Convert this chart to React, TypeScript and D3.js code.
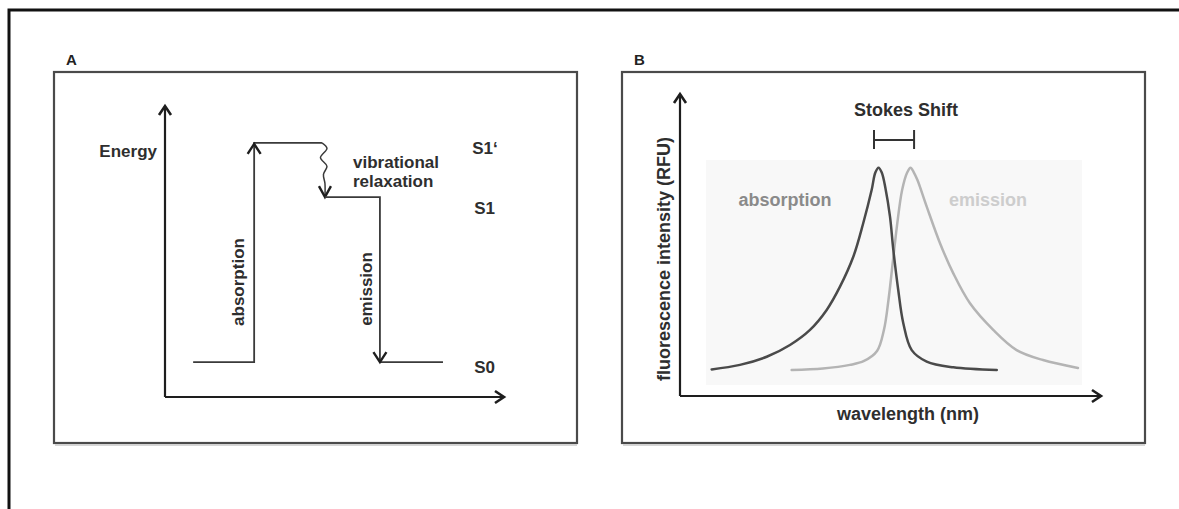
import React from "react";
import * as d3 from "d3";

const W = 1179;
const H = 509;
const FONT = "'Liberation Sans', Arial, Helvetica, sans-serif";

// ---------- Panel A: Jablonski-style energy diagram (arbitrary units) ----------
const levelNames = ["S0", "S1", "S1‘"];
const levelEnergies = [1.2, 6.87, 8.73];
// horizontal extent of each drawn level segment (transition coordinate)
const s0LeftSpan = [0.83, 2.63];
const s1PrimeSpan = [2.63, 4.63];
const s1Span = [4.72, 6.34];
const s0RightSpan = [6.34, 8.2];
const relaxationX = [4.63, 4.72];
const levelLabelX = 9.12;

// ---------- Panel B: absorption / emission spectra ----------
const absWavelength = [398.8, 415.6, 431.5, 445.3, 457.2, 467.1, 475.0, 482.9, 488.8, 493.8, 496.0, 497.9, 499.8, 502.0, 504.7, 506.7, 509.6, 512.6, 517.6, 526.5, 542.3, 568.1];
const absIntensity = [8.8, 10.3, 13.0, 16.9, 21.9, 28.5, 36.2, 46.1, 57.2, 68.2, 74.0, 75.6, 74.0, 68.8, 59.4, 48.3, 35.1, 24.1, 15.2, 11.4, 9.5, 8.6];
const emWavelength = [446.3, 464.9, 480.9, 489.3, 497.0, 501.1, 503.8, 506.5, 508.9, 511.9, 514.9, 516.9, 518.9, 521.0, 526.5, 534.4, 542.3, 552.2, 566.0, 579.9, 595.6, 616.3];
const emIntensity = [8.6, 9.1, 10.3, 11.6, 14.9, 21.9, 31.8, 45.0, 56.6, 68.2, 74.0, 75.6, 74.0, 71.5, 62.7, 50.6, 40.6, 30.7, 21.9, 15.2, 11.9, 9.3];
const stokesShift = [495.2, 519.0];

type Pt = [number, number];

// open chevron arrowhead at tip, pointing along direction angle (radians)
function chevron(tip: Pt, angle: number, len = 9, half = 6): string {
  const [tx, ty] = tip;
  const bx = tx - Math.cos(angle) * len;
  const by = ty - Math.sin(angle) * len;
  const nx = -Math.sin(angle) * half;
  const ny = Math.cos(angle) * half;
  return `M${bx + nx},${by + ny}L${tx},${ty}L${bx - nx},${by - ny}`;
}

// wiggle shape of the relaxation squiggle: [dx, fraction of drop]
const squiggleShape: Pt[] = [
  [0, 0], [5, 0.1], [-1.5, 0.27], [5, 0.43], [1.5, 0.58], [3, 0.75], [3, 1],
];

function PanelA() {
  const x = d3.scaleLinear().domain([0, 10]).range([165, 504]);
  const y = d3.scaleLinear().domain([0, 10]).range([397, 106]);
  const line = d3.line<Pt>();
  const e0 = levelEnergies[0];
  const e1 = levelEnergies[1];
  const e1p = levelEnergies[2];

  const x0 = x(relaxationX[0]);
  const yTop = y(e1p);
  const yBot = y(e1);
  const squiggle: Pt[] = squiggleShape.map(([dx, f]) => [x0 + dx, yTop + (yBot - yTop) * f]);
  const squigglePath = d3.line<Pt>().curve(d3.curveCatmullRom.alpha(0.5))(squiggle) as string;
  const tipX = x0 + squiggleShape[squiggleShape.length - 1][0];

  const lvlStroke = "#3a3a3a";
  const axisStroke = "#1e1e1e";
  const textColor = "#2e2e2e";

  return (
    <g>
      <text x={66} y={65} fontSize={15} fontWeight="bold" fill="#222" fontFamily={FONT}>A</text>
      <rect x={54} y={72} width={523} height={371} fill="none" stroke="#4a4a4a" strokeWidth={2.2} />
      <line x1={55} x2={577} y1={445} y2={445} stroke="#c8c8c8" strokeWidth={1.5} />

      {/* axes */}
      <path d={line([[x(0), y(0)], [x(0), y(10)]]) as string} stroke={axisStroke} strokeWidth={2.2} fill="none" />
      <path d={line([[x(0), y(0)], [x(10), y(0)]]) as string} stroke={axisStroke} strokeWidth={2.2} fill="none" />
      <path d={chevron([x(0), y(10)], -Math.PI / 2, 9, 6)} stroke={axisStroke} strokeWidth={2.6} fill="none" />
      <path d={chevron([x(10), y(0)], 0, 9, 6)} stroke={axisStroke} strokeWidth={2.6} fill="none" />

      {/* levels and transitions */}
      <path d={line([[x(s0LeftSpan[0]), y(e0)], [x(s0LeftSpan[1]), y(e0)], [x(s0LeftSpan[1]), y(e1p)], [x(s1PrimeSpan[1]), y(e1p)]]) as string} stroke={lvlStroke} strokeWidth={1.8} fill="none" />
      <path d={chevron([x(s0LeftSpan[1]), y(e1p) + 1], -Math.PI / 2, 10, 6.5)} stroke={axisStroke} strokeWidth={2.4} fill="none" />
      <path d={squigglePath} stroke={lvlStroke} strokeWidth={1.5} fill="none" />
      <path d={chevron([tipX, yBot], Math.PI / 2, 11, 6)} stroke={axisStroke} strokeWidth={2.4} fill="none" />
      <path d={line([[x(s1Span[0]), y(e1)], [x(s1Span[1]), y(e1)], [x(s1Span[1]), y(e0)], [x(s0RightSpan[1]), y(e0)]]) as string} stroke={lvlStroke} strokeWidth={1.8} fill="none" />
      <path d={chevron([x(s0RightSpan[0]), y(e0)], Math.PI / 2, 10, 6.5)} stroke={axisStroke} strokeWidth={2.4} fill="none" />

      {/* labels */}
      <g fontFamily={FONT} fontWeight="bold" fill={textColor}>
        <text x={157} y={157} fontSize={17} textAnchor="end">Energy</text>
        {levelNames.map((name, i) => (
          <text key={name} x={x(levelLabelX) + (i === 2 ? -2 : 0)} y={y(levelEnergies[i]) + (i === 2 ? 11 : i === 1 ? 17 : 11)} fontSize={17}>{name}</text>
        ))}
        <text x={353} y={168} fontSize={17}>vibrational</text>
        <text x={353} y={187} fontSize={17}>relaxation</text>
        <text transform={`translate(244,282) rotate(-90)`} fontSize={17} textAnchor="middle">absorption</text>
        <text transform={`translate(372,289) rotate(-90)`} fontSize={17} textAnchor="middle">emission</text>
      </g>
    </g>
  );
}

function PanelB() {
  const x = d3.scaleLinear().domain([380, 630]).range([680, 1101]);
  const y = d3.scaleLinear().domain([0, 100]).range([396, 94]);
  const spectrum = d3.line<Pt>().x((d) => x(d[0])).y((d) => y(d[1])).curve(d3.curveCatmullRom.alpha(0.5));
  const absPts: Pt[] = absWavelength.map((w, i) => [w, absIntensity[i]]);
  const emPts: Pt[] = emWavelength.map((w, i) => [w, emIntensity[i]]);
  const axisStroke = "#1e1e1e";
  const bracketY = 140;

  return (
    <g>
      <text x={634} y={65} fontSize={15} fontWeight="bold" fill="#222" fontFamily={FONT}>B</text>
      <rect x={622} y={72} width={523} height={371} fill="none" stroke="#4a4a4a" strokeWidth={2.2} />
      <line x1={623} x2={1145} y1={445} y2={445} stroke="#c8c8c8" strokeWidth={1.5} />

      {/* plot backdrop */}
      <rect x={706} y={160} width={376} height={225} fill="#f8f8f8" />

      {/* axes */}
      <line x1={x(380)} x2={x(380)} y1={y(0)} y2={y(100)} stroke={axisStroke} strokeWidth={2.2} />
      <line x1={x(380)} x2={x(630)} y1={y(0)} y2={y(0)} stroke={axisStroke} strokeWidth={2.2} />
      <path d={chevron([x(380), y(100)], -Math.PI / 2, 9, 6)} stroke={axisStroke} strokeWidth={2.6} fill="none" />
      <path d={chevron([x(630), y(0)], 0, 9, 6)} stroke={axisStroke} strokeWidth={2.6} fill="none" />

      {/* spectra */}
      <path d={spectrum(emPts) as string} stroke="#b4b4b4" strokeWidth={2.5} fill="none" strokeLinecap="round" />
      <path d={spectrum(absPts) as string} stroke="#4a4a4a" strokeWidth={2.5} fill="none" strokeLinecap="round" />

      {/* Stokes shift bracket */}
      <g stroke="#333" strokeWidth={2}>
        <line x1={x(stokesShift[0])} x2={x(stokesShift[1])} y1={bracketY} y2={bracketY} />
        <line x1={x(stokesShift[0])} x2={x(stokesShift[0])} y1={bracketY - 10} y2={bracketY + 9} />
        <line x1={x(stokesShift[1])} x2={x(stokesShift[1])} y1={bracketY - 10} y2={bracketY + 9} />
      </g>

      <g fontFamily={FONT} fontWeight="bold">
        <text x={906} y={116} fontSize={18} textAnchor="middle" fill="#2e2e2e">Stokes Shift</text>
        <text x={785} y={206} fontSize={18} textAnchor="middle" fill="#8a8a8a">absorption</text>
        <text x={988} y={206} fontSize={18} textAnchor="middle" fill="#cdcdcd">emission</text>
        <text x={908} y={420} fontSize={18} textAnchor="middle" fill="#2e2e2e">wavelength (nm)</text>
        <text transform={`translate(670,259) rotate(-90)`} fontSize={18} textAnchor="middle" fill="#2e2e2e">fluorescence intensity (RFU)</text>
      </g>
    </g>
  );
}

export default function App() {
  return (
    <svg
      width={W}
      height={H}
      viewBox={`0 0 ${W} ${H}`}
      style={{ position: "absolute", left: 0, top: 0, background: "#fff" }}
    >
      <rect x={0} y={0} width={W} height={H} fill="#fff" />
      <path d={`M9,${H}V10H${W}`} stroke="#111" strokeWidth={3} fill="none" />
      <PanelA />
      <PanelB />
    </svg>
  );
}
